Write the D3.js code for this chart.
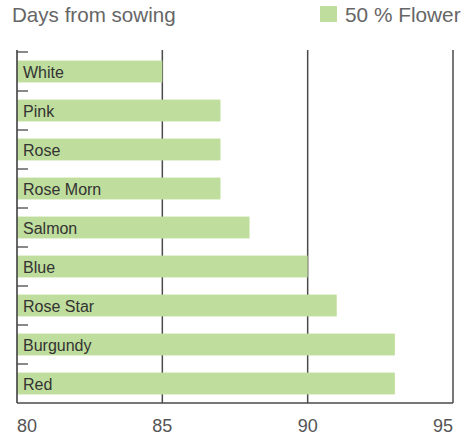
<!DOCTYPE html>
<html>
<head>
<meta charset="utf-8">
<script src="https://cdn.jsdelivr.net/npm/d3@7"></script>
<style>
  body { margin: 0; background: #fff; }
  text { font-family: "Liberation Sans", Arial, sans-serif; }
</style>
</head>
<body>
<svg id="chart" width="474" height="439"></svg>
<script>
"use strict";

var varieties = ["White", "Pink", "Rose", "Rose Morn", "Salmon", "Blue", "Rose Star", "Burgundy", "Red"];
var flowerDays = [85, 87, 87, 87, 88, 90, 91, 93, 93];
var xTicks = [80, 85, 90, 95];
var seriesName = "50 % Flower";
var titleText = "Days from sowing";

var svg = d3.select("#chart");
var barColor = "#bfdd9c";
var lineColor = "#4a4a4a";

var x = d3.scaleLinear().domain([80, 95]).range([17, 453]);
var y = d3.scaleBand().domain(varieties).range([52, 403])
    .paddingInner(0.44).paddingOuter(0.22);

var plotTop = 50, plotBottom = 403;

// title + legend
svg.append("text")
    .attr("x", 12).attr("y", 22)
    .attr("font-size", 20.6).attr("fill", "#666")
    .text(titleText);

svg.append("rect")
    .attr("x", 320).attr("y", 6).attr("width", 17).attr("height", 16)
    .attr("fill", barColor);
svg.append("text")
    .attr("x", 345).attr("y", 22)
    .attr("font-size", 20.8).attr("fill", "#666")
    .text(seriesName);

// gridlines (bars sit on top of them)
svg.append("g").selectAll("line")
    .data(xTicks.slice(1))
    .join("line")
    .attr("x1", function (d) { return x(d); })
    .attr("x2", function (d) { return x(d); })
    .attr("y1", plotTop).attr("y2", plotBottom)
    .attr("stroke", lineColor).attr("stroke-width", 1.5);

// bars
var rows = varieties.map(function (v, i) { return { name: v, value: flowerDays[i] }; });

svg.append("g").selectAll("rect")
    .data(rows)
    .join("rect")
    .attr("x", x(80))
    .attr("y", function (d) { return y(d.name); })
    .attr("width", function (d) { return x(d.value) - x(80); })
    .attr("height", y.bandwidth())
    .attr("fill", barColor);

// left axis line and ticks at band boundaries
svg.append("line")
    .attr("x1", x(80)).attr("x2", x(80))
    .attr("y1", plotTop).attr("y2", plotBottom)
    .attr("stroke", lineColor).attr("stroke-width", 1.7);

var boundaries = varieties.map(function (v) { return y(v) - y.step() * y.paddingOuter(); });
svg.append("g").selectAll("line")
    .data(boundaries)
    .join("line")
    .attr("x1", x(80)).attr("x2", x(80) + 11)
    .attr("y1", function (d) { return d; })
    .attr("y2", function (d) { return d; })
    .attr("stroke", lineColor).attr("stroke-width", 1.3);

// bottom axis line
svg.append("line")
    .attr("x1", x(80)).attr("x2", x(95))
    .attr("y1", plotBottom).attr("y2", plotBottom)
    .attr("stroke", lineColor).attr("stroke-width", 1.5);

// bar labels
svg.append("g").selectAll("text")
    .data(rows)
    .join("text")
    .attr("x", x(80) + 6)
    .attr("y", function (d) { return y(d.name) + y.bandwidth() / 2 + 6; })
    .attr("font-size", 16).attr("fill", "#333")
    .text(function (d) { return d.name; });

// x tick labels
svg.append("g").selectAll("text")
    .data(xTicks)
    .join("text")
    .attr("x", function (d) { return x(d); })
    .attr("y", 432)
    .attr("font-size", 18).attr("fill", "#555")
    .attr("text-anchor", function (d, i) {
        return i === 0 ? "start" : (i === xTicks.length - 1 ? "end" : "middle");
    })
    .text(function (d) { return d; });
</script>
</body>
</html>
